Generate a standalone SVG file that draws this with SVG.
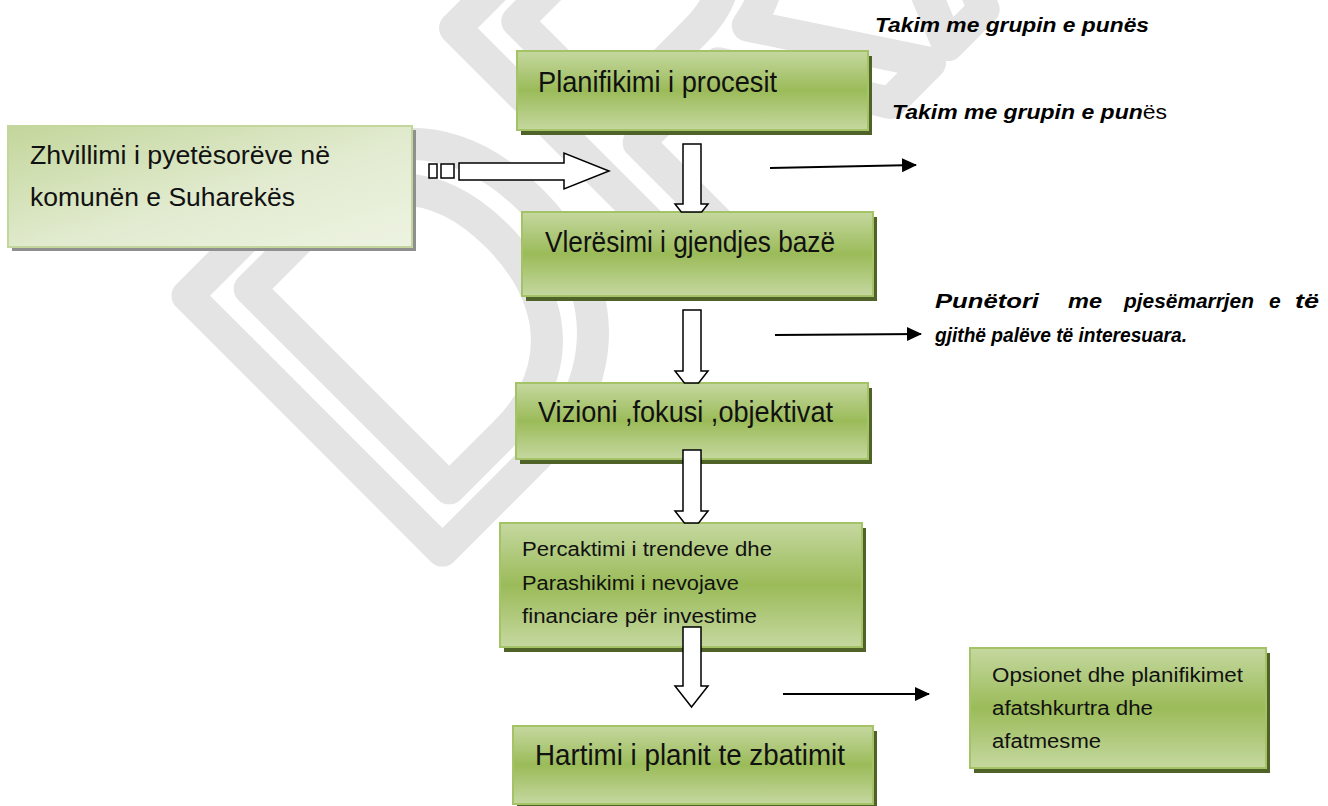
<svg xmlns="http://www.w3.org/2000/svg" width="1328" height="806" viewBox="0 0 1328 806">
  <style>
    .wm { font-family: "Liberation Sans", Arial, sans-serif; font-size: 524px; fill: none; stroke: #e4e4e4; stroke-width: 32; stroke-linejoin: round; }
    .box { fill: url(#gGreen); stroke: #a4c266; stroke-width: 2; }
    .shadow { fill: #4f6228; }
    .bt { font-family: "Liberation Sans", Arial, sans-serif; fill: #111; }
    .big { font-size: 30px; }
    .small { font-size: 20px; }
    .note { font-family: "Liberation Sans", Arial, sans-serif; font-weight: bold; font-style: italic; font-size: 21px; fill: #000; }
    .block { fill: #fff; stroke: #000; stroke-width: 1.5; stroke-linejoin: miter; }
    .thin { stroke: #000; stroke-width: 2; fill: none; }
  </style>
  <defs>
    <linearGradient id="gGreen" x1="0" y1="0" x2="0" y2="1">
      <stop offset="0" stop-color="#c5d8a0"/>
      <stop offset="0.5" stop-color="#9bbb59"/>
      <stop offset="1" stop-color="#c5d8a0"/>
    </linearGradient>
    <linearGradient id="gPale" x1="0" y1="0" x2="1" y2="1">
      <stop offset="0" stop-color="#c3d69b"/>
      <stop offset="0.55" stop-color="#e2ebd0"/>
      <stop offset="1" stop-color="#edf3e2"/>
    </linearGradient>
    <marker id="ah" markerWidth="16" markerHeight="16" refX="14" refY="7" orient="auto" markerUnits="userSpaceOnUse">
      <path d="M0,0 L15,7 L0,14 Z" fill="#000"/>
    </marker>
  </defs>

  <rect width="1328" height="806" fill="#fff"/>

  <!-- watermark -->
  <g id="watermark" transform="translate(412,581) rotate(-45)">
    <text class="wm" x="0" y="0">DRAFT</text>
  </g>

  <!-- nodes -->
  <g id="n-zhvillimi">
    <rect x="12" y="130" width="404" height="121" fill="#8f8f8f"/>
    <rect x="8" y="126" width="404" height="121" fill="url(#gPale)" stroke="#c3d69b" stroke-width="2"/>
    <text class="bt" x="30" y="164" font-size="26" textLength="300" lengthAdjust="spacingAndGlyphs">Zhvillimi i pyetësorëve në</text>
    <text class="bt" x="30" y="206" font-size="26" textLength="265" lengthAdjust="spacingAndGlyphs">komunën e Suharekës</text>
  </g>

  <g id="n-planifikimi">
    <rect class="shadow" x="521" y="56" width="351" height="79"/>
    <rect class="box" x="517" y="51" width="351" height="79"/>
    <text class="bt big" x="538" y="92" textLength="239" lengthAdjust="spacingAndGlyphs">Planifikimi i procesit</text>
  </g>

  <g id="n-vleresimi">
    <rect class="shadow" x="526" y="217" width="351" height="84"/>
    <rect class="box" x="522" y="212" width="351" height="84"/>
    <text class="bt big" x="545" y="252" textLength="290" lengthAdjust="spacingAndGlyphs">Vlerësimi i gjendjes bazë</text>
  </g>

  <g id="n-vizioni">
    <rect class="shadow" x="520" y="388" width="352" height="76"/>
    <rect class="box" x="516" y="383" width="352" height="76"/>
    <text class="bt big" x="538" y="422" textLength="295" lengthAdjust="spacingAndGlyphs">Vizioni ,fokusi ,objektivat</text>
  </g>

  <g id="n-percaktimi">
    <rect class="shadow" x="504" y="528" width="362" height="124"/>
    <rect class="box" x="500" y="523" width="362" height="124"/>
    <text class="bt small" x="522" y="556" textLength="250" lengthAdjust="spacingAndGlyphs">Percaktimi i trendeve dhe</text>
    <text class="bt small" x="522" y="590" textLength="217" lengthAdjust="spacingAndGlyphs">Parashikimi i nevojave</text>
    <text class="bt small" x="522" y="623" textLength="235" lengthAdjust="spacingAndGlyphs">financiare për investime</text>
  </g>

  <g id="n-hartimi">
    <rect class="shadow" x="517" y="731" width="360" height="78"/>
    <rect class="box" x="513" y="726" width="360" height="78"/>
    <text class="bt big" x="535" y="765" textLength="310" lengthAdjust="spacingAndGlyphs">Hartimi i planit te zbatimit</text>
  </g>

  <g id="n-opsionet">
    <rect class="shadow" x="974" y="653" width="296" height="120"/>
    <rect class="box" x="970" y="648" width="296" height="120"/>
    <text class="bt small" x="992" y="682" textLength="251" lengthAdjust="spacingAndGlyphs">Opsionet dhe planifikimet</text>
    <text class="bt small" x="992" y="715" textLength="161" lengthAdjust="spacingAndGlyphs">afatshkurtra dhe</text>
    <text class="bt small" x="992" y="748" textLength="109" lengthAdjust="spacingAndGlyphs">afatmesme</text>
  </g>

  <g id="n-takim1">
    <text class="note" x="875" y="32" font-size="22" textLength="274" lengthAdjust="spacingAndGlyphs">Takim me grupin e punës</text>
  </g>
  <g id="n-takim2">
    <text class="note" x="892" y="119" font-size="22" textLength="275" lengthAdjust="spacingAndGlyphs">Takim me grupin e pun<tspan font-weight="normal" font-style="normal">ës</tspan></text>
  </g>
  <g id="n-punetori">
    <text class="note" x="935" y="308" textLength="104" lengthAdjust="spacingAndGlyphs">Punëtori</text>
    <text class="note" x="1068" y="308" textLength="34" lengthAdjust="spacingAndGlyphs">me</text>
    <text class="note" x="1124" y="308" textLength="130" lengthAdjust="spacingAndGlyphs">pjesëmarrjen</text>
    <text class="note" x="1269" y="308">e</text>
    <text class="note" x="1295" y="308" textLength="24" lengthAdjust="spacingAndGlyphs">të</text>
    <text class="note" x="935" y="342" textLength="252" lengthAdjust="spacingAndGlyphs">gjithë palëve të interesuara.</text>
  </g>

  <!-- connectors -->
  <g id="connectors">
    <!-- horizontal block arrow -->
    <rect class="block" x="429" y="164" width="8" height="14"/>
    <rect class="block" x="441" y="164" width="13" height="14"/>
    <polygon class="block" points="459,163 564,163 564,153 609,171 564,189 564,180 459,180"/>
    <!-- vertical block arrows -->
    <polygon class="block" points="683,144 701,144 701,204 708,204 701.7,212 681.3,212 675,204 683,204"/>
    <polygon class="block" points="683,310 701,310 701,371 708,371 698.6,383 684.4,383 675,371 683,371"/>
    <polygon class="block" points="683,450 701,450 701,511 708,511 698.6,523 684.4,523 675,511 683,511"/>
    <polygon class="block" points="683,627 701,627 701,686 708,686 691.5,707 675,686 683,686"/>
    <!-- thin arrows -->
    <line class="thin" x1="770" y1="168" x2="916" y2="165" marker-end="url(#ah)"/>
    <line class="thin" x1="775" y1="335" x2="921" y2="334" marker-end="url(#ah)"/>
    <line class="thin" x1="783" y1="694" x2="929" y2="694" marker-end="url(#ah)"/>
  </g>
</svg>
